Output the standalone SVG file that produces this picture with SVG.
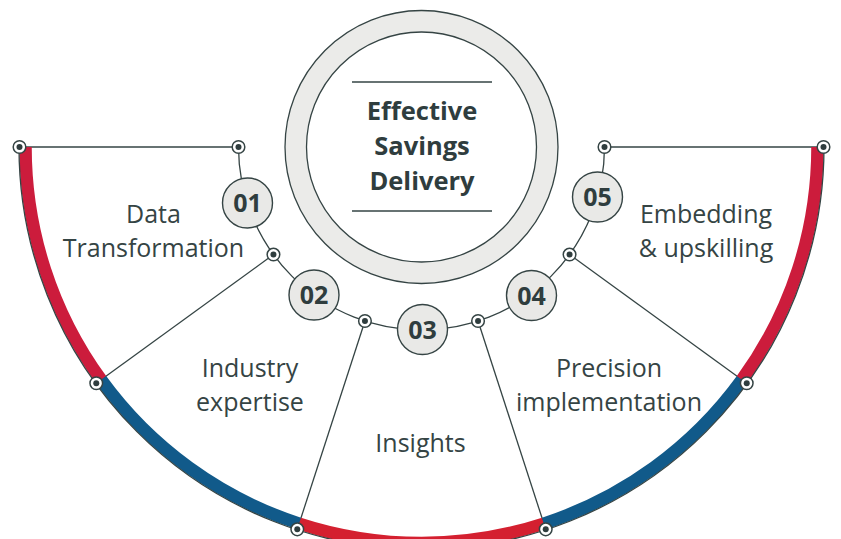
<svg xmlns="http://www.w3.org/2000/svg" width="841" height="539" viewBox="0 0 841 539">
<style>
.ln{fill:none;stroke:#354444;stroke-width:1.3}
.band{fill:none;stroke-width:12.5;stroke-linecap:butt}
.red{stroke:#cc1c3c}
.red2{stroke:#d42030}
.blue{stroke:#115a8a}
.mk{fill:#fff;stroke:#354444;stroke-width:1.5}
.dot{fill:#2f3d3e}
.num{fill:#e9e9e7;stroke:#354444;stroke-width:1.4}
.nt{font-family:"Open Sans","Noto Sans",sans-serif;font-weight:700;font-size:25px;fill:#2f3d3e;text-anchor:middle}
.lbl{font-family:"Open Sans","Noto Sans",sans-serif;font-size:25px;fill:#354444;text-anchor:middle}
.ttl{font-family:"Open Sans","Noto Sans",sans-serif;font-weight:700;font-size:25.5px;fill:#2f3d3e;text-anchor:middle}
</style>
<defs>
<g id="m"><circle r="6.3" class="mk"/><circle r="3" class="dot"/></g>
</defs>
<g id="connectors">
<line class="ln" x1="19.5" y1="147" x2="238.5" y2="147"/>
<line class="ln" x1="273.45" y1="254.56" x2="96.28" y2="383.29"/>
<line class="ln" x1="364.95" y1="321.04" x2="297.28" y2="529.33"/>
<line class="ln" x1="478.05" y1="321.04" x2="545.72" y2="529.33"/>
<line class="ln" x1="569.55" y1="254.56" x2="746.72" y2="383.29"/>
<line class="ln" x1="604.5" y1="147" x2="823.5" y2="147"/>
<path class="ln" d="M238.5,147 A183,183 0 0 0 604.5,147"/>
</g>
<g id="outer-arc">
<path class="band red" d="M25.5,147 A396,396 0 0 0 101.13,379.76"/>
<path class="band blue" d="M101.13,379.76 A396,396 0 0 0 299.13,523.62"/>
<path class="band red2" d="M299.13,523.62 A396,396 0 0 0 543.87,523.62"/>
<path class="band blue" d="M543.87,523.62 A396,396 0 0 0 741.87,379.76"/>
<path class="band red" d="M741.87,379.76 A396,396 0 0 0 817.5,147"/>
<path class="ln" d="M19,147 A402.5,402.5 0 0 0 824,147"/>
</g>
<g id="outer-markers">
<use href="#m" x="19.5" y="147"/>
<use href="#m" x="96.28" y="383.29"/>
<use href="#m" x="297.28" y="529.33"/>
<use href="#m" x="545.72" y="529.33"/>
<use href="#m" x="746.72" y="383.29"/>
<use href="#m" x="823.5" y="147"/>
</g>
<g id="inner-markers">
<use href="#m" x="238.5" y="147"/>
<use href="#m" x="273.45" y="254.56"/>
<use href="#m" x="364.95" y="321.04"/>
<use href="#m" x="478.05" y="321.04"/>
<use href="#m" x="569.55" y="254.56"/>
<use href="#m" x="604.5" y="147"/>
</g>
<g id="center">
<circle cx="421.5" cy="147" r="125.7" fill="none" stroke="#ebebe9" stroke-width="21.5"/>
<circle cx="421.5" cy="147" r="136.5" fill="none" stroke="#354444" stroke-width="1.3"/>
<circle cx="421.5" cy="147" r="115" fill="#fff" stroke="#354444" stroke-width="1.3"/>
<line x1="352" y1="82" x2="492" y2="82" stroke="#354444" stroke-width="1.5"/>
<line x1="352" y1="211" x2="492" y2="211" stroke="#354444" stroke-width="1.5"/>
<text class="ttl" x="422" y="120">Effective</text>
<text class="ttl" x="422" y="155">Savings</text>
<text class="ttl" x="422" y="190">Delivery</text>
</g>
<g id="n01"><circle cx="247.5" cy="203" r="25" class="num"/><text class="nt" x="247.5" y="212">01</text></g>
<g id="n02"><circle cx="314" cy="295" r="25" class="num"/><text class="nt" x="314" y="304">02</text></g>
<g id="n03"><circle cx="422.5" cy="329.5" r="25" class="num"/><text class="nt" x="422.5" y="338.5">03</text></g>
<g id="n04"><circle cx="531.5" cy="295.5" r="25" class="num"/><text class="nt" x="531.5" y="304.5">04</text></g>
<g id="n05"><circle cx="597.5" cy="197" r="25" class="num"/><text class="nt" x="597.5" y="206">05</text></g>
<g id="labels">
<text class="lbl" x="153.5" y="223">Data</text>
<text class="lbl" x="153.5" y="257">Transformation</text>
<text class="lbl" x="250" y="377">Industry</text>
<text class="lbl" x="250" y="411">expertise</text>
<text class="lbl" x="420.5" y="452">Insights</text>
<text class="lbl" x="609" y="377">Precision</text>
<text class="lbl" x="609" y="411">implementation</text>
<text class="lbl" x="706" y="223">Embedding</text>
<text class="lbl" x="706" y="257">&amp; upskilling</text>
</g>
</svg>
